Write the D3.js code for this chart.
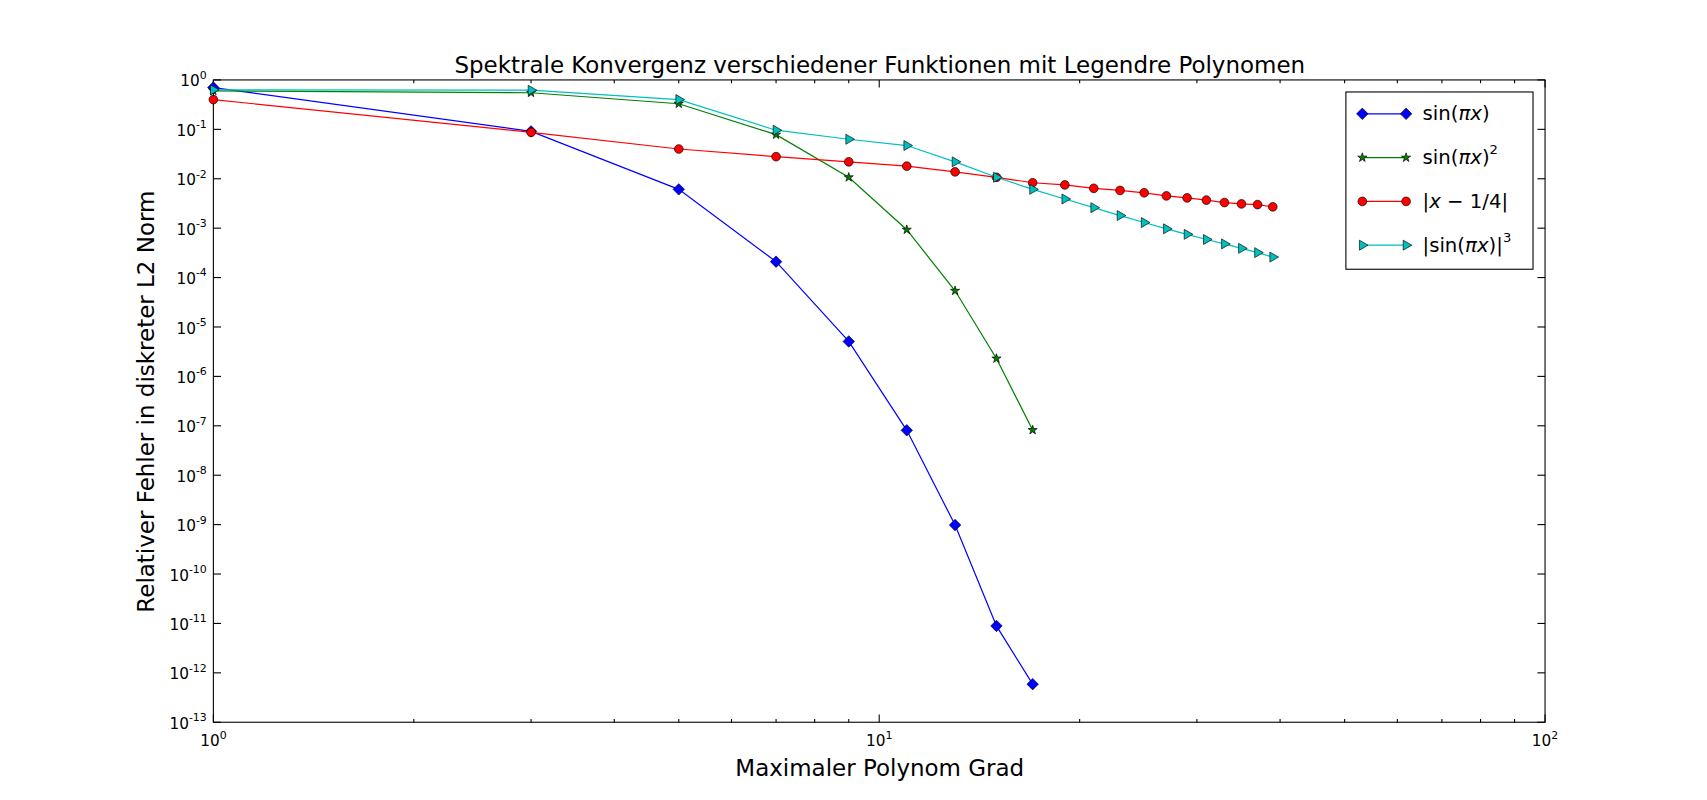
<!DOCTYPE html>
<html><head><meta charset="utf-8">
<script src="https://cdn.jsdelivr.net/npm/d3@7"></script>
<style>body{margin:0;background:#fff}text{font-family:"DejaVu Sans",sans-serif}</style>
</head><body><svg id="c" width="1707" height="800" viewBox="0 0 1560 731"></svg>
<script>
const degrees = [1,3,5,7,9,11,13,15,17,19,21,23,25,27,29,31,33,35,37,39];
const sinErr = [0.7,0.091,0.0061,2.1e-4,5.1e-6,8.1e-8,9.8e-10,8.9e-12,5.9e-13];
const sin2Err = [0.6,0.55,0.33,0.078,0.0107,9.3e-4,5.4e-5,2.3e-6,8.2e-8];
const absErr = [0.4,0.087,0.04,0.028,0.022,0.018,0.0138,0.0107,0.0083,0.0075,0.0064,0.0058,0.0052,0.0045,0.0041,0.0037,0.0033,0.0031,0.003,0.0027];
const sin3Err = [0.63,0.62,0.4,0.096,0.063,0.047,0.022,0.0107,0.0061,0.0039,0.0026,0.0018,0.0013,9.7e-4,7.5e-4,5.9e-4,4.8e-4,3.9e-4,3.2e-4,2.6e-4];
const yExps = d3.range(0,-14,-1);

const svg = d3.select("#c");
const x = d3.scaleLog().domain([1,100]).range([195,1412]);
const y = d3.scaleLog().domain([1e-13,1]).range([660,73]);

const minorX = [];
for (let d of [1,10]) for (let k=2;k<10;k++) minorX.push(d*k);
const ax = svg.append("g");
ax.selectAll(".mx").data(minorX).enter().append("line")
  .attr("x1",d=>x(d)).attr("x2",d=>x(d)).attr("y1",660).attr("y2",657).attr("stroke","#000");
ax.selectAll(".mx2").data(minorX).enter().append("line")
  .attr("x1",d=>x(d)).attr("x2",d=>x(d)).attr("y1",73).attr("y2",76).attr("stroke","#000");
[1,10,100].forEach(v=>{
  ax.append("line").attr("x1",x(v)).attr("x2",x(v)).attr("y1",660).attr("y2",653).attr("stroke","#000");
  ax.append("line").attr("x1",x(v)).attr("x2",x(v)).attr("y1",73).attr("y2",80).attr("stroke","#000");
  const t = ax.append("text").attr("x",x(v)).attr("y",682).attr("text-anchor","middle").attr("font-size",14);
  t.append("tspan").text("10");
  t.append("tspan").attr("dy",-7).attr("font-size",10).text(Math.log10(v));
});
yExps.forEach(e=>{
  const v = Math.pow(10,e);
  ax.append("line").attr("x1",195).attr("x2",202).attr("y1",y(v)).attr("y2",y(v)).attr("stroke","#000");
  ax.append("line").attr("x1",1412).attr("x2",1405).attr("y1",y(v)).attr("y2",y(v)).attr("stroke","#000");
  const t = ax.append("text").attr("x",189).attr("y",y(v)+6).attr("text-anchor","end").attr("font-size",14);
  t.append("tspan").text("10");
  t.append("tspan").attr("dy",-7).attr("font-size",10).text(e===0?"0":"-"+(-e));
});
svg.append("rect").attr("x",195).attr("y",73).attr("width",1217).attr("height",587).attr("fill","none").attr("stroke","#000");

svg.append("text").attr("x",804).attr("y",67).attr("text-anchor","middle").attr("font-size",21)
  .text("Spektrale Konvergenz verschiedener Funktionen mit Legendre Polynomen");
svg.append("text").attr("x",804).attr("y",709).attr("text-anchor","middle").attr("font-size",21).text("Maximaler Polynom Grad");
svg.append("text").attr("transform","translate(141,367) rotate(-90)").attr("text-anchor","middle").attr("font-size",21)
  .text("Relativer Fehler in diskreter L2 Norm");

const sym = {
  diamond: d3.symbol().type(d3.symbolDiamond2).size(70),
  star: d3.symbol().type(d3.symbolStar).size(22),
  circle: d3.symbol().type(d3.symbolCircle).size(50),
  tri: d3.symbol().type(d3.symbolTriangle).size(36)
};
const series = [
  {vals:sinErr,col:"#0000ff",m:"diamond",rot:0},
  {vals:sin2Err,col:"#008000",m:"star",rot:0},
  {vals:absErr,col:"#ff0000",m:"circle",rot:0},
  {vals:sin3Err,col:"#00bfbf",m:"tri",rot:90}
];
const line = d3.line().x(d=>x(d[0])).y(d=>y(d[1]));
series.forEach(s=>{
  const pts = s.vals.map((v,i)=>[degrees[i],v]);
  svg.append("path").attr("d",line(pts)).attr("fill","none").attr("stroke",s.col).attr("stroke-width",1.1);
  svg.selectAll(null).data(pts).enter().append("path")
    .attr("d",sym[s.m]()).attr("transform",d=>`translate(${x(d[0])},${y(d[1])}) rotate(${s.rot})`)
    .attr("fill",s.col).attr("stroke","#000").attr("stroke-width",0.6);
});

const lg = svg.append("g");
lg.append("rect").attr("x",1230).attr("y",84).attr("width",171).attr("height",162).attr("fill","#fff").attr("stroke","#000");
const labels = [
  [["sin(","n"],["\u03c0x","i"],[")","n"]],
  [["sin(","n"],["\u03c0x","i"],[")","n"],["2","s"]],
  [["|","n"],["x","i"],[" \u2212 1/4|","n"]],
  [["|sin(","n"],["\u03c0x","i"],[")|","n"],["3","s"]]
];
series.forEach((s,i)=>{
  const yy = 104 + i*40;
  lg.append("line").attr("x1",1245).attr("x2",1285).attr("y1",yy).attr("y2",yy).attr("stroke",s.col).attr("stroke-width",1.1);
  [1245,1285].forEach(xx=>lg.append("path").attr("d",sym[s.m]()).attr("transform",`translate(${xx},${yy}) rotate(${s.rot})`)
    .attr("fill",s.col).attr("stroke","#000").attr("stroke-width",0.6));
  const t = lg.append("text").attr("x",1300).attr("y",yy+6).attr("font-family","'DejaVu Serif',serif").attr("font-size",18);
  labels[i].forEach(([txt,k])=>{
    const sp = t.append("tspan").text(txt);
    if (k==="i") sp.attr("font-style","italic");
    if (k==="s") sp.attr("dy",-9).attr("font-size",12);
  });
});
</script></body></html>
